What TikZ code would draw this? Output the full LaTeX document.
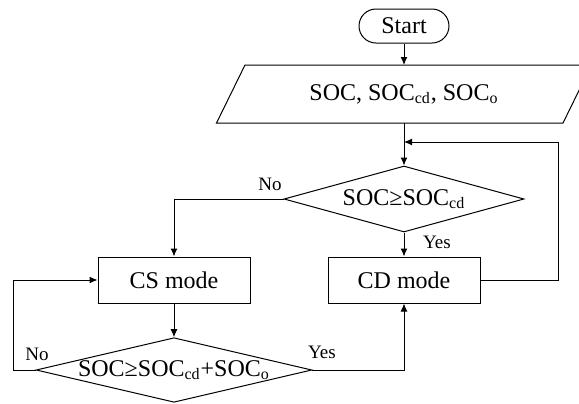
\documentclass[tikz,border=0pt]{standalone}
\usepackage{fontspec}
\setmainfont{Liberation Serif}
\usetikzlibrary{shapes.geometric,arrows.meta}

\tikzset{
  flow/.style={-{Latex[length=4pt,width=3.5pt]}},
  modebox/.style={draw, minimum width=76pt, minimum height=23pt, inner sep=0pt},
  test/.style={draw, diamond, inner sep=0pt},
  lbl/.style={font=\fontsize{9.5pt}{11pt}\selectfont}
}

\begin{document}
\begin{tikzpicture}[x=0.5pt, y=-0.5pt, line width=0.5pt, font=\fontsize{12pt}{14pt}\selectfont]
\useasboundingbox (0,0) rectangle (579,403);

%Draw the blocks
\node[draw, rounded corners=8.5pt, minimum width=45pt, minimum height=17pt, inner sep=0pt] (start) at (404,26) {Start};
\node[minimum width=172.75pt, minimum height=28.5pt, inner sep=0pt] (input) at (404,94) {SOC, SOC\textsubscript{cd}, SOC\textsubscript{o}};
\draw ([xshift=-7.125pt]input.south west) -- ([xshift=7.125pt]input.north west)
   -- ([xshift=7.125pt]input.north east) -- ([xshift=-7.125pt]input.south east) -- cycle;

\node[test, aspect=3.64, minimum width=120pt, minimum height=33pt] (d1) at (404,199) {SOC≥SOC\textsubscript{cd}};
\node[modebox] (cs) at (174,280) {CS mode};
\node[modebox] (cd) at (404,280) {CD mode};
\node[test, aspect=4.27, minimum width=136.5pt, minimum height=32pt] (d2) at (174,370) {SOC≥SOC\textsubscript{cd}+SOC\textsubscript{o}};

\coordinate (join) at (404,142);
\coordinate (back) at (558,142);
\coordinate (loop) at (13,280);

%Draw the arrows
\draw[flow] (start) -- (input);
\draw[flow] (input) -- (d1);
\draw[flow] (cd.east) -| (back) -- (join);
\draw[flow] (d1.west) -| (cs.north);
\draw[flow] (d1.south) -- (cd.north);
\draw[flow] (cs.south) -- (d2.north);
\draw[flow] (d2.west) -| (loop) -- (cs.west);
\draw[flow] (d2.east) -| (cd.south);

\node[lbl] (no1) at (270,184) {No};
\node[lbl] (yes1) at (437,242) {Yes};
\node[lbl] (no2) at (37,354) {No};
\node[lbl] (yes2) at (322,352) {Yes};

\end{tikzpicture}
\end{document}
